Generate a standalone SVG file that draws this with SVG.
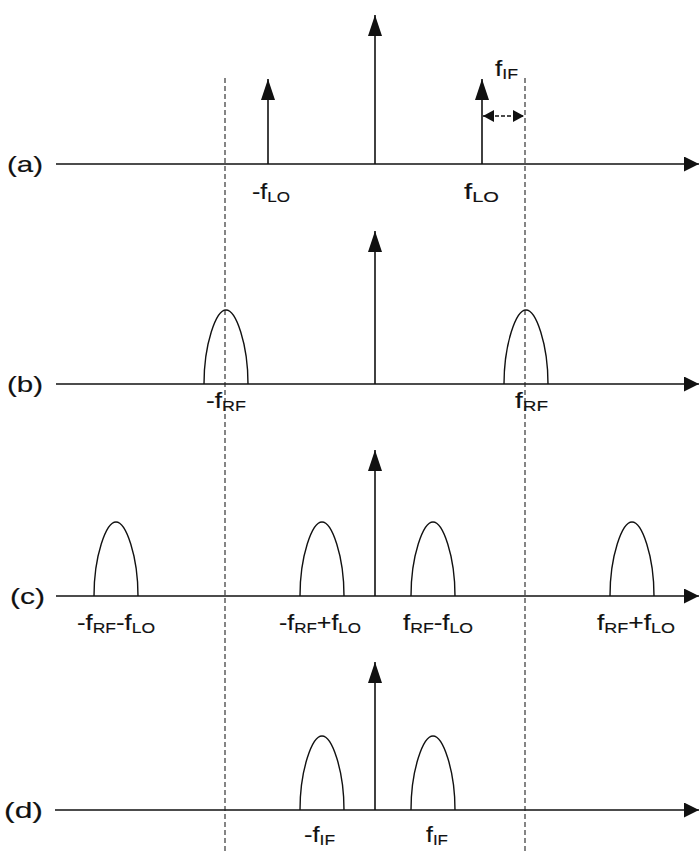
<svg xmlns="http://www.w3.org/2000/svg" width="699" height="853" viewBox="0 0 699 853">
<style>
  .ax { stroke:#111; stroke-width:1.6; fill:none; }
  .sp { stroke:#111; stroke-width:1.6; fill:none; }
  .hump { stroke:#111; stroke-width:1.4; fill:none; }
  .dash { stroke:#222; stroke-width:1.1; stroke-dasharray:5 3; fill:none; }
  text { font-family:"Liberation Sans", Arial, sans-serif; font-size:22px; fill:#111; stroke:#111; stroke-width:0.15; }
  .sub { font-size:15px; }
</style>
<defs>
  <marker id="up" viewBox="0 0 21 14" refX="21" refY="7" markerWidth="21" markerHeight="14" markerUnits="userSpaceOnUse" orient="auto">
    <path d="M0,0 L21,7 L0,14 z" fill="#111"/>
  </marker>
  <marker id="axh" viewBox="0 0 15 15" refX="15" refY="7.5" markerWidth="15" markerHeight="15" markerUnits="userSpaceOnUse" orient="auto">
    <path d="M0,0 L15,7.5 L0,15 z" fill="#111"/>
  </marker>
  <marker id="dbl" viewBox="0 0 11 12" refX="11" refY="6" markerWidth="11" markerHeight="12" markerUnits="userSpaceOnUse" orient="auto-start-reverse">
    <path d="M0,0 L11,6 L0,12 z" fill="#111"/>
  </marker>
  <path id="hump" d="M-22,0 C-22,-40 -10,-74 0,-74 C10,-74 22,-40 22,0"/>
</defs>

<!-- Panel (a) -->
<g id="panel-a">
  <text x="7" y="172" textLength="36" lengthAdjust="spacingAndGlyphs">(a)</text>
  <line class="ax" x1="56" y1="164" x2="699" y2="164" marker-end="url(#axh)"/>
  <line class="sp" x1="375" y1="164" x2="375" y2="15" marker-end="url(#up)"/>
  <line class="sp" x1="268" y1="164" x2="268" y2="79" marker-end="url(#up)"/>
  <line class="sp" x1="482" y1="164" x2="482" y2="79" marker-end="url(#up)"/>
  <text x="252" y="199" textLength="38" lengthAdjust="spacingAndGlyphs">-f<tspan class="sub" dy="3">LO</tspan></text>
  <text x="464" y="199" textLength="35" lengthAdjust="spacingAndGlyphs">f<tspan class="sub" dy="3">LO</tspan></text>
  <text x="495" y="76" textLength="23" lengthAdjust="spacingAndGlyphs">f<tspan class="sub" dy="3">IF</tspan></text>
</g>

<!-- Panel (b) -->
<g id="panel-b">
  <text x="7" y="392" textLength="36" lengthAdjust="spacingAndGlyphs">(b)</text>
  <line class="ax" x1="56" y1="384" x2="699" y2="384" marker-end="url(#axh)"/>
  <line class="sp" x1="375" y1="384" x2="375" y2="231" marker-end="url(#up)"/>
  <use href="#hump" class="hump" x="226" y="384"/>
  <use href="#hump" class="hump" x="526" y="384"/>
  <text x="206" y="408" textLength="40" lengthAdjust="spacingAndGlyphs">-f<tspan class="sub" dy="3">RF</tspan></text>
  <text x="515" y="408" textLength="33" lengthAdjust="spacingAndGlyphs">f<tspan class="sub" dy="3">RF</tspan></text>
</g>

<!-- Panel (c) -->
<g id="panel-c">
  <text x="10" y="604" textLength="35" lengthAdjust="spacingAndGlyphs">(c)</text>
  <line class="ax" x1="56" y1="596" x2="699" y2="596" marker-end="url(#axh)"/>
  <line class="sp" x1="375" y1="596" x2="375" y2="450" marker-end="url(#up)"/>
  <use href="#hump" class="hump" x="116" y="596"/>
  <use href="#hump" class="hump" x="322" y="596"/>
  <use href="#hump" class="hump" x="433" y="596"/>
  <use href="#hump" class="hump" x="632" y="596"/>
  <text x="77" y="630" textLength="78" lengthAdjust="spacingAndGlyphs">-f<tspan class="sub" dy="3">RF</tspan><tspan dy="-3">-f</tspan><tspan class="sub" dy="3">LO</tspan></text>
  <text x="279" y="630" textLength="82" lengthAdjust="spacingAndGlyphs">-f<tspan class="sub" dy="3">RF</tspan><tspan dy="-3">+f</tspan><tspan class="sub" dy="3">LO</tspan></text>
  <text x="403" y="630" textLength="70" lengthAdjust="spacingAndGlyphs">f<tspan class="sub" dy="3">RF</tspan><tspan dy="-3">-f</tspan><tspan class="sub" dy="3">LO</tspan></text>
  <text x="597" y="630" textLength="78" lengthAdjust="spacingAndGlyphs">f<tspan class="sub" dy="3">RF</tspan><tspan dy="-3">+f</tspan><tspan class="sub" dy="3">LO</tspan></text>
</g>

<!-- Panel (d) -->
<g id="panel-d">
  <text x="4" y="818" textLength="39" lengthAdjust="spacingAndGlyphs">(d)</text>
  <line class="ax" x1="55" y1="810" x2="699" y2="810" marker-end="url(#axh)"/>
  <line class="sp" x1="375" y1="810" x2="375" y2="662" marker-end="url(#up)"/>
  <use href="#hump" class="hump" x="322" y="810"/>
  <use href="#hump" class="hump" x="433" y="810"/>
  <text x="304" y="842" textLength="31" lengthAdjust="spacingAndGlyphs">-f<tspan class="sub" dy="3">IF</tspan></text>
  <text x="426" y="842" textLength="22" lengthAdjust="spacingAndGlyphs">f<tspan class="sub" dy="3">IF</tspan></text>
</g>

<!-- Connectors -->
<g id="connectors">
  <line class="dash" x1="225" y1="78" x2="225" y2="853"/>
  <line class="dash" x1="525" y1="78" x2="525" y2="853"/>
  <line x1="483" y1="116" x2="524" y2="116" stroke="#111" stroke-width="1.3" stroke-dasharray="4 2" marker-start="url(#dbl)" marker-end="url(#dbl)"/>
</g>
</svg>
